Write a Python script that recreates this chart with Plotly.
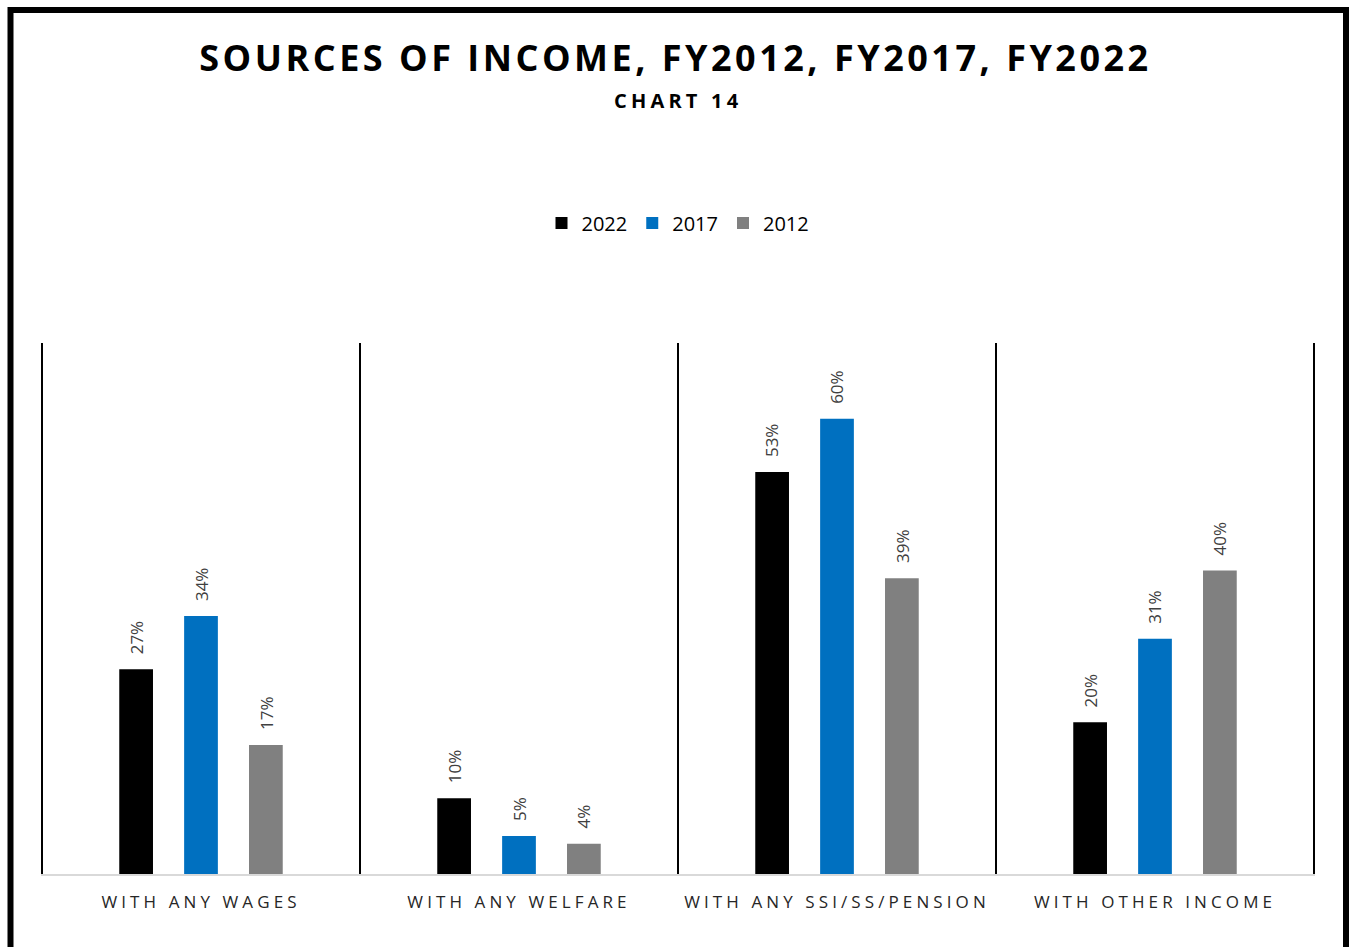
import plotly.graph_objects as go

# Share of households by income source, three fiscal years
categories = ["WITH ANY WAGES", "WITH ANY WELFARE", "WITH ANY SSI/SS/PENSION", "WITH OTHER INCOME"]
fy2022 = [27, 10, 53, 20]
fy2017 = [34, 5, 60, 31]
fy2012 = [17, 4, 39, 40]

W, H = 1351, 947
ML, MR, MT, MB = 41, 36, 343, 73
PW, PH = W - ML - MR, H - MT - MB


def px_x(p):
    return (p - ML) / PW


def px_y(p):
    return (H - MB - p) / PH


def spaced(s, px):
    return f'<span style="letter-spacing:{px}px">{s}</span>'


series = [("2022", fy2022, "#000000"), ("2017", fy2017, "#0070C0"), ("2012", fy2012, "#808080")]
BARGAP = 0.388
slot = (1 - BARGAP) / len(series)

fig = go.Figure()
annotations = []
for j, (name, vals, color) in enumerate(series):
    fig.add_trace(go.Bar(
        x=categories, y=vals, name=name,
        marker=dict(color=color, line=dict(width=0)),
    ))
    off = (j - (len(series) - 1) / 2) * slot
    for i, v in enumerate(vals):
        annotations.append(dict(
            x=i + off, y=v, xref="x", yref="y", text=f"{v}%", textangle=-90,
            xanchor="center", yanchor="bottom", yshift=13, showarrow=False,
            font=dict(family="Open Sans", size=17, color="#404040"),
        ))

annotations.append(dict(text="<b>" + spaced("CHART 14", 4.2) + "</b>", xref="paper", yref="paper",
                        x=px_x(678), y=px_y(100), xanchor="center", yanchor="middle",
                        showarrow=False, font=dict(family="Open Sans", size=20, color="#000000")))

shapes = []
# category dividers
for k in range(len(categories) + 1):
    shapes.append(dict(type="line", xref="x", yref="paper", x0=k - 0.5, x1=k - 0.5,
                       y0=0, y1=1, line=dict(color="#000000", width=2)))
# outer frame
shapes.append(dict(type="rect", xref="paper", yref="paper",
                   x0=px_x(10.5), x1=px_x(1346), y0=px_y(10), y1=px_y(960),
                   line=dict(color="#000000", width=6), fillcolor="rgba(0,0,0,0)", layer="above"))

fig.update_layout(
    width=W, height=H,
    margin=dict(l=ML, r=MR, t=MT, b=MB),
    paper_bgcolor="white", plot_bgcolor="white",
    barmode="group", bargap=BARGAP, bargroupgap=0.48,
    title=dict(text="<b>" + spaced("SOURCES OF INCOME, FY2012, FY2017, FY2022", 3.5) + "</b>",
               x=0.5, xanchor="center", y=1 - 58 / H, yanchor="middle",
               font=dict(family="Open Sans", size=36, color="#000000")),
    annotations=annotations,
    legend=dict(orientation="h", x=px_x(678), xanchor="center", y=px_y(223), yanchor="middle",
                font=dict(family="Open Sans", size=20, color="#000000"),
                itemwidth=30, traceorder="normal"),
    xaxis=dict(showline=True, linecolor="#D9D9D9", linewidth=2, ticks="",
               tickfont=dict(family="Open Sans", size=17, color="#262626"),
               tickvals=categories, ticktext=[spaced(c, 4.1) for c in categories],
               ticklabelstandoff=12,
               showgrid=False, zeroline=False, fixedrange=True),
    yaxis=dict(range=[0, 70], visible=False, showgrid=False, zeroline=False),
    shapes=shapes,
    font=dict(family="Open Sans"),
)

fig.write_html("out.html")
